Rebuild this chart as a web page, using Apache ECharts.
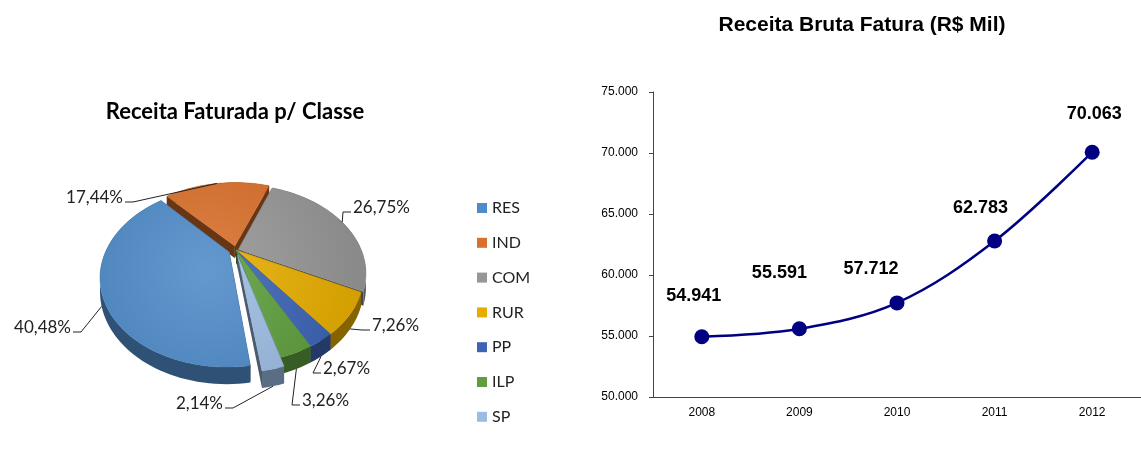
<!DOCTYPE html>
<html>
<head>
<meta charset="utf-8">
<script src="https://cdn.jsdelivr.net/npm/echarts@6/dist/echarts.min.js"></script>
<style>
  html, body { margin: 0; padding: 0; background: #fff; }
  #chart { width: 1141px; height: 450px; }
</style>
</head>
<body>
<div id="chart"></div>
<script>
// --- data ---
var classes = ['RES', 'IND', 'COM', 'RUR', 'PP', 'ILP', 'SP'];
var shares = [40.48, 17.44, 26.75, 7.26, 2.67, 3.26, 2.14];
var classColors = ['#4f8bc9', '#d9702c', '#969696', '#e6ad00', '#3c64b4', '#5e9e3e', '#9cbce3'];

var years = ['2008', '2009', '2010', '2011', '2012'];
var revenue = [54941, 55591, 57712, 62783, 70063];

// --- layout ---
// 3d pie: center, radii, depth, perspective, start angle (deg, clockwise from 12h)
var P = { cx: 236, cy: 250, sx: 123, sy: 82.5, sz: 12.4, persp: 0.27, start: 172 };
var explode = [0.06, 0.05, 0.02, 0, 0, 0, 0.06];
// label text position [x, y, align]
var pieLabelPos = [
    [71, 328, 'right'], [123, 198, 'right'], [353, 208, 'left'], [372, 326, 'left'],
    [323, 369, 'left'], [302, 401, 'left'], [223, 404, 'right']
];
var valueLabelOffset = [[-8, -41], [-20, -56], [-26, -34], [-14, -33], [2, -38]];

var total = shares.reduce(function (s, v) { return s + v; }, 0);

function rad(d) { return d * Math.PI / 180; }

function proj(X, Y, Z) {
    var w = 1 - P.persp * Y;
    return [P.cx + P.sx * X / w, P.cy + (P.sy * Y - P.sz * Z) / w];
}

function rimXY(th, r, off) {
    var t = rad(th);
    return [off[0] + r * Math.sin(t), off[1] - r * Math.cos(t)];
}

function sliceAngles(i) {
    var a = P.start;
    for (var j = 0; j < i; j++) a += shares[j] / total * 360;
    return [a, a + shares[i] / total * 360];
}

function shade(hex, k) {
    var n = parseInt(hex.slice(1), 16);
    var r = (n >> 16) & 255, g = (n >> 8) & 255, b = n & 255;
    function f(v) { return Math.max(0, Math.min(255, Math.round(k >= 1 ? v + (255 - v) * (k - 1) : v * k))); }
    return 'rgb(' + f(r) + ',' + f(g) + ',' + f(b) + ')';
}

function renderSlice(i) {
    return function (params, api) {
        var ang = sliceAngles(i), a0 = ang[0], a1 = ang[1], mid = (a0 + a1) / 2;
        var off = [explode[i] * Math.sin(rad(mid)), -explode[i] * Math.cos(rad(mid))];
        var c = classColors[i];
        var steps = Math.max(3, Math.ceil((a1 - a0) / 2));
        var children = [];
        var apex = proj(off[0], off[1], 0), apexB = proj(off[0], off[1], -1);
        var top = [apex], bot = [], maxY = -1;
        for (var k = 0; k <= steps; k++) {
            var th = a0 + (a1 - a0) * k / steps;
            var p = rimXY(th, 1, off);
            top.push(proj(p[0], p[1], 0));
            bot.push(proj(p[0], p[1], -1));
            maxY = Math.max(maxY, p[1]);
        }
        // outer wall
        children.push({
            type: 'polygon', z2: 10 + 5 * maxY,
            shape: { points: top.slice(1).concat(bot.reverse()) },
            style: { fill: shade(c, 0.58) }
        });
        // radial walls
        [a0, a1].forEach(function (th) {
            var p = rimXY(th, 1, off);
            children.push({
                type: 'polygon', z2: 10 + 5 * (p[1] + off[1]) / 2,
                shape: { points: [apex, proj(p[0], p[1], 0), proj(p[0], p[1], -1), apexB] },
                style: { fill: shade(c, 0.48) }
            });
        });
        // top face
        var ctr = proj(0, 0, 0);
        children.push({
            type: 'polygon', z2: 100,
            shape: { points: top },
            style: {
                fill: new echarts.graphic.RadialGradient(ctr[0] - 30, ctr[1] + 20, 150, [
                    { offset: 0, color: shade(c, 1.12) },
                    { offset: 1, color: shade(c, 0.92) }
                ], true),
                stroke: shade(c, 0.92), lineWidth: 0.5
            }
        });
        // label + leader
        var lp = pieLabelPos[i];
        var pm = rimXY(mid, 1, off);
        var anchor = pm[1] > 0.3 ? proj(pm[0], pm[1], -1) : proj(pm[0], pm[1], 0);
        var dir = lp[2] === 'right' ? 1 : -1;
        var ly = lp[1] + 4;
        children.push({
            type: 'polyline', z2: 150,
            shape: { points: [[lp[0] + dir * 2, ly], [lp[0] + dir * 10, ly], anchor] },
            style: { stroke: '#222', lineWidth: 1, fill: null }
        });
        children.push({
            type: 'text', z2: 200,
            style: {
                text: shares[i].toFixed(2).replace('.', ',') + '%',
                x: lp[0], y: lp[1], align: lp[2], verticalAlign: 'middle',
                font: '17px Lato', fill: '#222'
            }
        });
        return { type: 'group', children: children };
    };
}

var pieSeries = classes.map(function (name, i) {
    return {
        name: name,
        type: 'custom',
        coordinateSystem: 'none',
        itemStyle: { color: classColors[i] },
        renderItem: renderSlice(i),
        data: [[shares[i]]],
        silent: true
    };
});

var chart = echarts.init(document.getElementById('chart'));
chart.setOption({
    animation: false,
    title: [
        {
            text: 'Receita Faturada p/ Classe', left: 230, top: 96, textAlign: 'center',
            textStyle: { fontFamily: 'Lato', fontSize: 22, fontWeight: 'bold', color: '#000' }
        },
        {
            text: 'Receita Bruta Fatura (R$ Mil)', left: 857, top: 10, textAlign: 'center',
            textStyle: { fontFamily: 'Liberation Sans', fontSize: 21, fontWeight: 'bold', color: '#000' }
        }
    ],
    legend: {
        orient: 'vertical', left: 472, top: 195,
        icon: 'rect', itemWidth: 10, itemHeight: 10, itemGap: 18.8,
        textStyle: { fontFamily: 'Lato', fontSize: 16, color: '#222', lineHeight: 16 },
        data: classes
    },
    grid: { left: 653, right: -7, top: 92, bottom: 53 },
    xAxis: {
        type: 'category', data: years,
        axisLine: { lineStyle: { color: '#444', width: 1 } },
        axisTick: { length: 4, lineStyle: { color: '#444' } },
        axisLabel: { color: '#000', fontFamily: 'Liberation Sans', fontSize: 12, margin: 10 }
    },
    yAxis: {
        type: 'value', min: 50000, max: 75000, interval: 5000,
        splitLine: { show: false },
        axisLine: { show: true, lineStyle: { color: '#444', width: 1 } },
        axisTick: { show: true, length: 4, lineStyle: { color: '#444' } },
        axisLabel: {
            color: '#000', fontFamily: 'Liberation Sans', fontSize: 12, margin: 15,
            formatter: function (v) { return (v / 1000).toFixed(3); }
        }
    },
    series: pieSeries.concat([{
        name: 'Receita',
        type: 'line',
        smooth: 0.35,
        symbol: 'circle', symbolSize: 15,
        itemStyle: { color: '#000080' },
        lineStyle: { color: '#000080', width: 2.5 },
        data: revenue.map(function (v, i) {
            return { value: v, label: { offset: valueLabelOffset[i] } };
        }),
        label: {
            show: true, position: 'inside',
            fontFamily: 'Liberation Sans', fontSize: 18, fontWeight: 'bold', color: '#000',
            formatter: function (p) { return (p.value / 1000).toFixed(3); }
        }
    }])
});
</script>
</body>
</html>
